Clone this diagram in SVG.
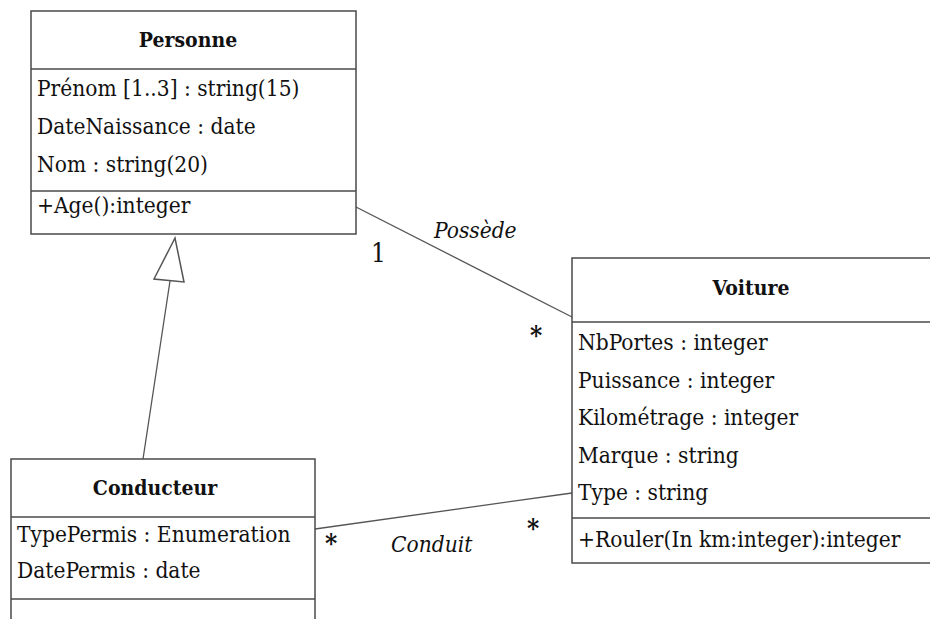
<svg xmlns="http://www.w3.org/2000/svg" width="930" height="619" viewBox="0 0 930 619">
  <style>
    .box { fill: #ffffff; stroke: #4a4a4a; stroke-width: 1.5; }
    .sep { stroke: #4a4a4a; stroke-width: 1.5; }
    .edge { fill: none; stroke: #555555; stroke-width: 1.3; }
    .head { fill: #ffffff; stroke: #555555; stroke-width: 1.5; stroke-linejoin: miter; }
    .txt { font-family: "DejaVu Serif Condensed", "DejaVu Serif", serif; font-stretch: condensed; fill: #111111; }
    .title { font-size: 21px; font-weight: bold; text-anchor: middle; }
    .attr { font-size: 22.5px; }
    .label { font-size: 22.5px; font-style: italic; }
    .mult { font-size: 26px; }
    .star { font-size: 26px; font-weight: bold; text-anchor: middle; }
  </style>

  <rect width="930" height="619" fill="#ffffff"/>

  <!-- connectors -->
  <g id="connectors">
    <!-- generalization Conducteur -> Personne -->
    <line class="edge" x1="143" y1="459" x2="170" y2="281"/>
    <polygon class="head" points="175,238 154,279 184,282"/>
    <!-- Possède -->
    <line class="edge" x1="356" y1="207" x2="572" y2="317"/>
    <g class="txt">
      <text class="label" x="434" y="238">Possède</text>
      <text class="mult" x="371" y="262">1</text>
      <text class="star" x="536" y="344">*</text>
    </g>
    <!-- Conduit -->
    <line class="edge" x1="315" y1="529" x2="572" y2="493"/>
    <g class="txt">
      <text class="label" x="391" y="552">Conduit</text>
      <text class="star" x="331" y="552">*</text>
      <text class="star" x="533" y="537">*</text>
    </g>
  </g>

  <!-- Personne -->
  <g id="personne">
    <rect class="box" x="31" y="11" width="325" height="223"/>
    <line class="sep" x1="31" y1="69" x2="356" y2="69"/>
    <line class="sep" x1="31" y1="191" x2="356" y2="191"/>
    <g class="txt">
      <text class="title" x="188" y="47">Personne</text>
      <text class="attr" x="37" y="96">Prénom [1..3] : string(15)</text>
      <text class="attr" x="37" y="134">DateNaissance : date</text>
      <text class="attr" x="37" y="172">Nom : string(20)</text>
      <text class="attr" x="37" y="213">+Age():integer</text>
    </g>
  </g>

  <!-- Voiture -->
  <g id="voiture">
    <rect class="box" x="572" y="258" width="380" height="305"/>
    <line class="sep" x1="572" y1="322" x2="952" y2="322"/>
    <line class="sep" x1="572" y1="518" x2="952" y2="518"/>
    <g class="txt">
      <text class="title" x="751" y="295">Voiture</text>
      <text class="attr" x="578" y="350">NbPortes : integer</text>
      <text class="attr" x="578" y="388">Puissance : integer</text>
      <text class="attr" x="578" y="425">Kilométrage : integer</text>
      <text class="attr" x="578" y="463">Marque : string</text>
      <text class="attr" x="578" y="500">Type : string</text>
      <text class="attr" x="578" y="547">+Rouler(In km:integer):integer</text>
    </g>
  </g>

  <!-- Conducteur -->
  <g id="conducteur">
    <rect class="box" x="11" y="459" width="304" height="180"/>
    <line class="sep" x1="11" y1="517" x2="315" y2="517"/>
    <line class="sep" x1="11" y1="599" x2="315" y2="599"/>
    <g class="txt">
      <text class="title" x="155" y="495">Conducteur</text>
      <text class="attr" x="17" y="542">TypePermis : Enumeration</text>
      <text class="attr" x="17" y="578">DatePermis : date</text>
    </g>
  </g>
</svg>
